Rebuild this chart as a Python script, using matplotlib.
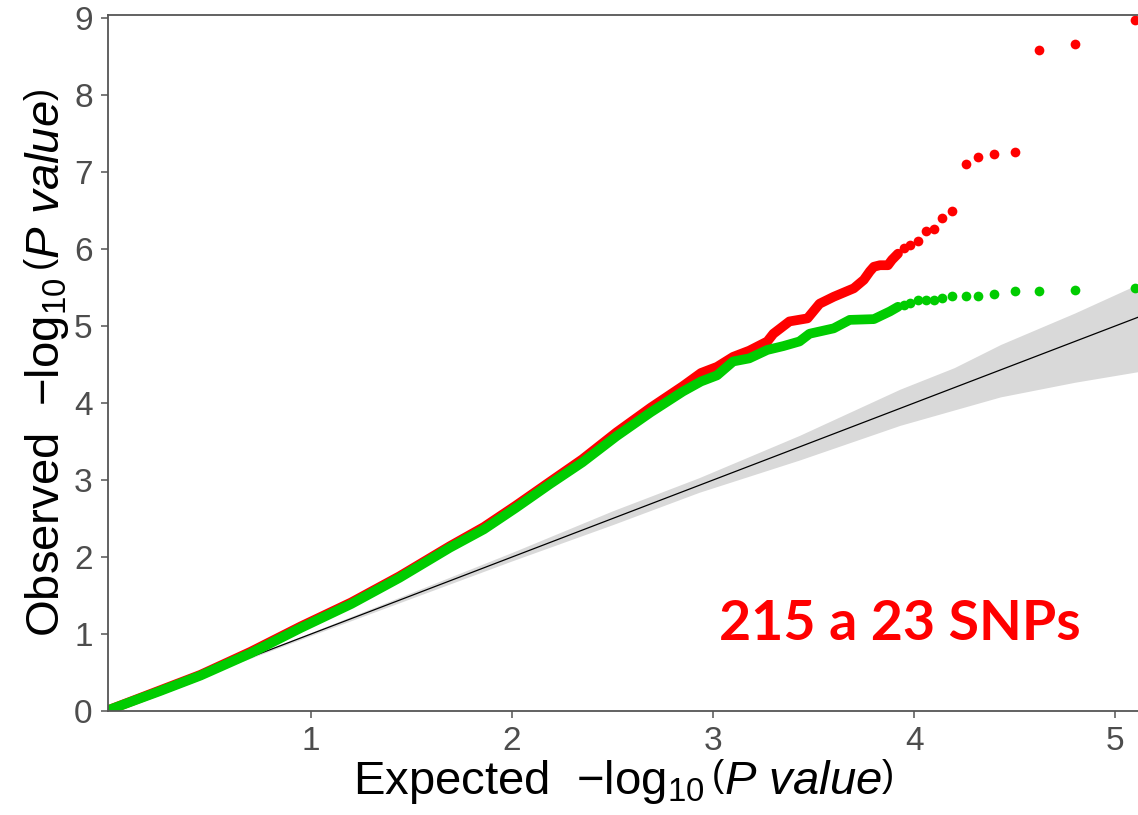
import matplotlib
matplotlib.use('Agg')
import matplotlib.pyplot as plt

plt.rcParams['font.family'] = ['Liberation Sans', 'DejaVu Sans']
plt.rcParams['mathtext.fontset'] = 'custom'
plt.rcParams['mathtext.rm'] = 'Liberation Sans'
plt.rcParams['mathtext.it'] = 'Liberation Sans:italic'

# dense part of the QQ curves (expected, observed)
red_exp = [0.00, 0.25, 0.45, 0.70, 0.95, 1.20, 1.44, 1.69, 1.86, 2.02, 2.19, 2.35,
           2.52, 2.69, 2.85, 2.94, 3.02, 3.10, 3.18, 3.27, 3.30, 3.38, 3.47, 3.53,
           3.60, 3.70, 3.75, 3.78, 3.80, 3.83, 3.87, 3.89, 3.92]
red_obs = [0.02, 0.27, 0.47, 0.77, 1.10, 1.41, 1.75, 2.14, 2.39, 2.67, 2.98, 3.27,
           3.62, 3.94, 4.22, 4.39, 4.47, 4.60, 4.68, 4.80, 4.90, 5.06, 5.10, 5.29,
           5.38, 5.49, 5.60, 5.71, 5.77, 5.79, 5.79, 5.86, 5.94]

green_exp = [0.00, 0.25, 0.45, 0.70, 0.95, 1.20, 1.44, 1.69, 1.86, 2.02, 2.19, 2.35,
             2.52, 2.69, 2.85, 2.94, 3.02, 3.10, 3.18, 3.27, 3.35, 3.43, 3.48, 3.60,
             3.68, 3.80, 3.88, 3.92]
green_obs = [0.02, 0.26, 0.46, 0.75, 1.08, 1.39, 1.73, 2.12, 2.36, 2.64, 2.95, 3.23,
             3.57, 3.88, 4.15, 4.28, 4.36, 4.54, 4.58, 4.69, 4.74, 4.80, 4.90, 4.97,
             5.08, 5.09, 5.19, 5.25]

# sparse tail (shared expected quantiles)
tail_exp = [3.95, 3.98, 4.02, 4.06, 4.10, 4.14, 4.19, 4.26, 4.32, 4.40, 4.50, 4.62, 4.80, 5.10]
red_tail = [6.01, 6.05, 6.11, 6.23, 6.26, 6.40, 6.50, 7.10, 7.20, 7.24, 7.26, 8.58, 8.66, 8.98]
green_tail = [5.27, 5.30, 5.34, 5.34, 5.34, 5.36, 5.39, 5.39, 5.39, 5.42, 5.45, 5.45, 5.47, 5.50]

# expected line and confidence band
diag = [0, 5.12]
band_x = [0.0, 1.0, 2.0, 2.5, 2.93, 3.43, 3.93, 4.20, 4.43, 4.80, 5.12]
band_lo = [0.0, 0.98, 1.95, 2.42, 2.84, 3.26, 3.71, 3.91, 4.08, 4.27, 4.41]
band_hi = [0.0, 1.02, 2.06, 2.60, 3.03, 3.58, 4.18, 4.46, 4.76, 5.17, 5.55]

fig = plt.figure(figsize=(11.38, 8.15), dpi=100)
ax = fig.add_axes([108/1138, 104/815, 1 - 108/1138, (711 - 15)/815])

ax.fill_between(band_x, band_lo, band_hi, color='#d9d9d9', linewidth=0)
ax.plot(diag, diag, color='black', lw=0.9)

red = '#ff0000'
green = '#00cc00'
ax.plot(red_exp, red_obs, color=red, lw=7, solid_capstyle='round', solid_joinstyle='round')
ax.plot(tail_exp, red_tail, 'o', color=red, ms=7, mew=0)
ax.plot(green_exp, green_obs, color=green, lw=7, solid_capstyle='round', solid_joinstyle='round')
ax.plot(tail_exp, green_tail, 'o', color=green, ms=7, mew=0)

ax.text(3.03, 0.92, '215 a 23 SNPs', color=red, fontsize=40, fontweight='bold',
        family='Lato', ha='left', va='baseline')

ax.set_xlim(-0.01, 5.114)
ax.set_ylim(0, 9.04)
ax.set_xticks([1, 2, 3, 4, 5])
ax.set_yticks(range(10))

for s in ['top', 'left', 'bottom']:
    ax.spines[s].set_color('#555555')
    ax.spines[s].set_linewidth(1.3)
ax.spines['right'].set_visible(False)
ax.tick_params(colors='#555555', labelcolor='#4d4d4d', labelsize=24, length=5, width=1.1, pad=6)

ax.set_xlabel(r'Expected  $-\log_{10}\left(\mathit{P\ value}\right)$', fontsize=34, labelpad=0)
ax.set_ylabel(r'Observed  $-\log_{10}\left(\mathit{P\ value}\right)$', fontsize=34, labelpad=2)

fig.savefig('out.png', dpi=100)
